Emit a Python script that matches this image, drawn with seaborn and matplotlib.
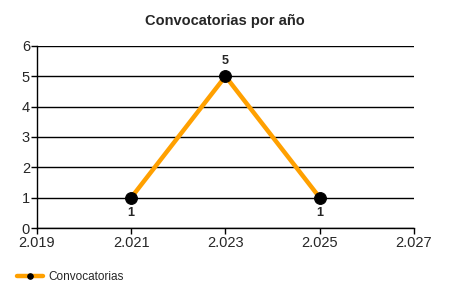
import matplotlib
matplotlib.use("Agg")
import matplotlib.pyplot as plt
import seaborn as sns
import pandas as pd
from matplotlib.ticker import FuncFormatter

years = [2021, 2023, 2025]
counts = [1, 5, 1]
series_name = "Convocatorias"
title = "Convocatorias por año"

df = pd.DataFrame({"year": years, "count": counts})

sns.set_style("white")
plt.rcParams['font.family'] = ['Liberation Sans', 'DejaVu Sans']

fig = plt.figure(figsize=(4.5, 3), dpi=100)
ax = fig.add_axes([0.082, 0.24, 0.838, 0.607])

sns.lineplot(data=df, x="year", y="count", ax=ax, color="#FFA000", linewidth=3.2,
             marker="o", markersize=8.5, markerfacecolor="black", markeredgecolor="black",
             label=series_name, zorder=3)

ax.set_xlim(2019, 2027)
ax.set_ylim(0, 6)
ax.set_xticks([2019, 2021, 2023, 2025, 2027])
ax.set_yticks(range(0, 7))
ax.xaxis.set_major_formatter(FuncFormatter(lambda v, p: f"{v/1000:.3f}"))
ax.yaxis.grid(True, color="black", linewidth=1)
ax.set_axisbelow(True)
for s in ["top", "right"]:
    ax.spines[s].set_visible(False)
for s in ["left", "bottom"]:
    ax.spines[s].set_color("black")
    ax.spines[s].set_linewidth(1)
ax.tick_params(axis="both", which="major", length=4, width=1, color="black",
               labelsize=10.5, direction="out", bottom=True, left=True)
ax.tick_params(axis="x", pad=2)
ax.tick_params(axis="y", pad=1)
ax.set_xlabel("")
ax.set_ylabel("")

for x, y in zip(years, counts):
    if y == max(counts):
        ax.annotate(str(y), (x, y), xytext=(0, 7), textcoords="offset points",
                    ha="center", va="bottom", fontweight="bold", fontsize=9)
    else:
        ax.annotate(str(y), (x, y), xytext=(0, -7), textcoords="offset points",
                    ha="center", va="top", fontweight="bold", fontsize=9)

fig.suptitle(title, x=0.5, y=0.955, fontweight="bold", fontsize=10.5)

leg = ax.legend(loc="lower left", bbox_to_anchor=(-0.08, -0.36), frameon=False,
                fontsize=8.5, handlelength=2.2, handletextpad=0.4)
for h in leg.legend_handles:
    h.set_markersize(4)

fig.savefig("out.png", dpi=100)
